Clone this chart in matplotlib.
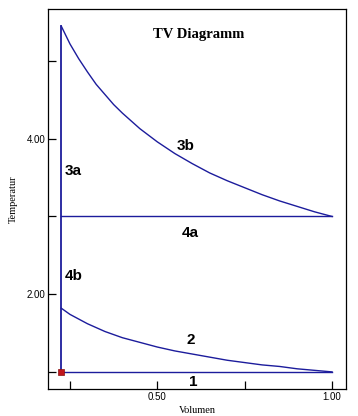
import numpy as np
import matplotlib
matplotlib.use("Agg")
import matplotlib.pyplot as plt

# values
v_min = 0.225
v_curve = [0.225, 0.25, 0.275, 0.3, 0.325, 0.35, 0.375, 0.4, 0.45, 0.5, 0.55,
           0.6, 0.65, 0.7, 0.75, 0.8, 0.85, 0.9, 0.95, 1.0]
t_3b = [5.45, 5.22, 5.03, 4.86, 4.70, 4.57, 4.44, 4.33, 4.13, 3.96, 3.81,
        3.68, 3.56, 3.46, 3.37, 3.28, 3.20, 3.13, 3.06, 3.0]
t_2 = [1.82, 1.74, 1.68, 1.62, 1.57, 1.52, 1.48, 1.44, 1.38, 1.32, 1.27,
       1.23, 1.19, 1.15, 1.12, 1.09, 1.07, 1.04, 1.02, 1.0]
v_line = [0.225, 1.0]
t_4a = [3.0, 3.0]
t_1 = [1.0, 1.0]
t_vert = [1.0, 5.45]

labels = ["3a", "3b", "4a", "4b", "2", "1"]
label_v = [0.234, 0.556, 0.57, 0.234, 0.584, 0.59]
label_t = [3.53, 3.86, 2.73, 2.18, 1.36, 0.82]

blue = "#1c1c9c"

fig = plt.figure(figsize=(3.58, 4.16), dpi=100)
ax = fig.add_axes([0.134, 0.0649, 0.8325, 0.9135])

ax.plot(v_curve, t_3b, color=blue, lw=1)
ax.plot(v_curve, t_2, color=blue, lw=1)
ax.plot(v_line, t_4a, color=blue, lw=1)
ax.plot(v_line, t_1, color=blue, lw=1)
ax.plot([v_min, v_min], t_vert, color=blue, lw=1.3)
ax.plot([v_min], [1.0], marker="s", ms=4, color="#c0161c", mec="#8a1010", mew=0.5)

for s, x, y in zip(labels, label_v, label_t):
    ax.text(x, y, s, fontsize=11, fontweight="bold", family="Liberation Sans",
            ha="left", va="baseline")

ax.text(0.617, 5.30, "TV Diagramm", fontsize=10.5, fontweight="bold",
        family="Liberation Serif", ha="center", va="baseline")

ax.set_xlim(0.187, 1.04)
ax.set_ylim(0.78, 5.67)
ax.set_xticks([0.25, 0.5, 0.75, 1.0])
ax.set_xticklabels(["", "0.50", "", "1.00"])
ax.set_yticks([1, 2, 3, 4, 5])
ax.set_yticklabels(["", "2.00", "", "4.00", ""])
ax.tick_params(direction="in", length=6, width=0.9, labelsize=7, pad=2)
for lab in ax.get_xticklabels() + ax.get_yticklabels():
    lab.set_family("Liberation Sans")
for sp in ax.spines.values():
    sp.set_linewidth(0.9)

ax.set_xlabel("Volumen", family="Liberation Serif", fontsize=7.5, labelpad=3)
ax.set_ylabel("Temperatur", family="Liberation Serif", fontsize=7.5, labelpad=6)

fig.savefig("out.png", dpi=100)
